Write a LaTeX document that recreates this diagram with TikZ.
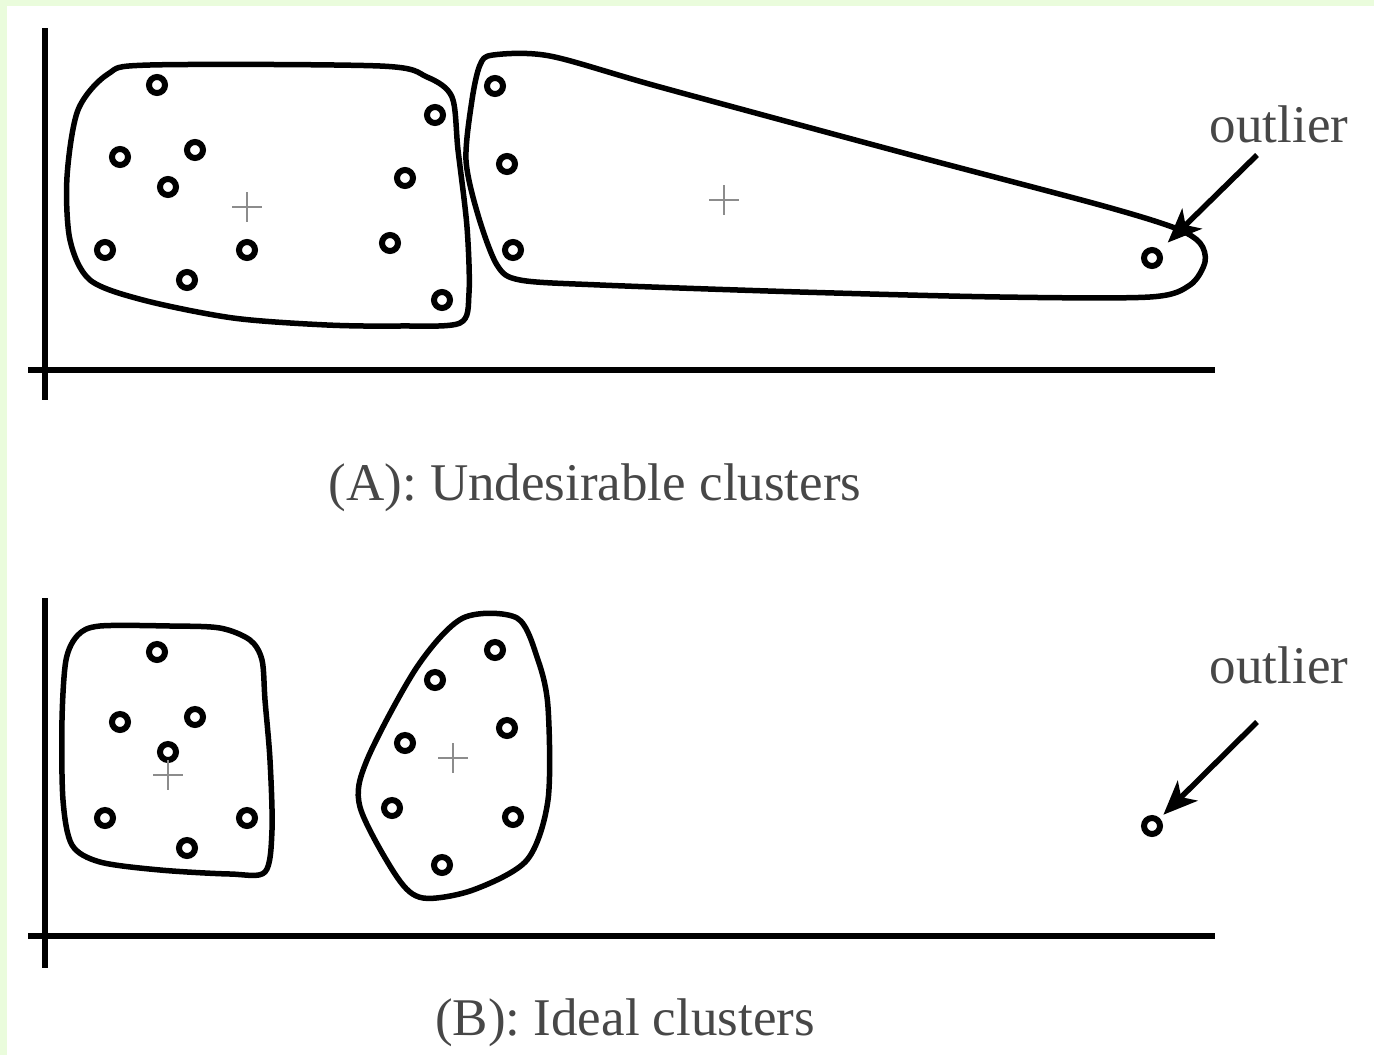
\documentclass[tikz,border=0pt]{standalone}
\usepackage{fontspec}
\setmainfont{Liberation Serif}
\usetikzlibrary{arrows.meta}
\definecolor{framegreen}{RGB}{234,252,220}

\begin{document}
\begin{tikzpicture}[x=1pt, y=-1pt,
    pnt/.style={circle, draw, line width=6pt, minimum size=16pt, inner sep=0pt},
    blob/.style={line width=5.5pt, line join=round},
    ax/.style={line width=6pt},
    lbl/.style={anchor=base, text=black!72, font=\fontsize{53}{60}\selectfont},
    arr/.style={line width=5.5pt, -{Stealth[length=34pt, width=28pt, inset=9pt]}},
    cen/.pic={\draw[black!45, line width=2.5pt] (-15,0) -- (15,0) (0,-15) -- (0,15);}]

    % frame
    \fill[framegreen] (0,0) rectangle (1374,1055);
    \fill[white] (7,6) rectangle (1374,1055);
    \useasboundingbox (0,0) rectangle (1374,1055);

    % (A) axes
    \draw[ax] (45,28) -- (45,400);
    \draw[ax] (28,370) -- (1215,370);

    % (A) clusters
    \draw[blob] plot[smooth cycle, tension=0.5] coordinates {(150,65) (380,66) (427,77) (452,97)
        (458,150) (467,227) (469,293) (460,323) (400,326) (327,325) (233,318) (143,300)
        (90,280) (70,240) (67,177) (78,110) (108,74)};
    \draw[blob] plot[smooth cycle, tension=0.5] coordinates {(493,55) (550,56) (660,87) (900,152)
        (1100,205) (1175,228) (1200,243) (1205,262) (1190,285) (1150,297) (1000,297) (800,292)
        (600,285) (520,280) (497,265) (478,215) (466,160) (472,100) (480,65)};

    \foreach \n/\x/\y in {a1/157/85, a2/120/157, a3/195/150, a4/168/187, a5/105/250, a6/187/280,
        a7/247/250, a8/435/115, a9/405/178, a10/390/243, a11/442/300,
        a12/495/86, a13/507/164, a14/513/250, aout/1152/258}
        \node[pnt] (\n) at (\x,\y) {};

    \pic (cenA1) at (247,207) {cen};
    \pic (cenA2) at (724,200) {cen};

    \node[lbl] (outlA) at (1279,142) {outlier};
    \coordinate (tailA) at (1257,155);
    \draw[arr, shorten >=11pt] (tailA) -- (aout);

    \node[lbl] (capA) at (595,500) {(A): Undesirable clusters};

    % (B) axes
    \draw[ax] (45,598) -- (45,968);
    \draw[ax] (28,936) -- (1215,936);

    % (B) clusters
    \draw[blob] plot[smooth cycle, tension=0.5] coordinates {(100,626) (170,626) (220,628) (250,640)
        (262,660) (265,700) (270,760) (272,830) (265,872) (230,874) (160,870) (100,862)
        (72,845) (63,800) (62,720) (66,660) (78,635)};
    \draw[blob] plot[smooth cycle, tension=0.5] coordinates {(463,618) (517,618) (538,660) (548,707)
        (548,800) (527,860) (473,890) (423,898) (397,877) (360,807) (367,760) (417,667)};

    \foreach \n/\x/\y in {b1/157/652, b2/120/722, b3/195/717, b4/168/752, b5/105/818, b6/187/848,
        b7/247/818, b8/495/650, b9/435/680, b10/507/728, b11/405/743, b12/392/808,
        b13/513/817, b14/442/865, bout/1152/826}
        \node[pnt] (\n) at (\x,\y) {};

    \pic (cenB1) at (168,775) {cen};
    \pic (cenB2) at (453,758) {cen};

    \node[lbl] (outlB) at (1279,683) {outlier};
    \coordinate (tailB) at (1257,722);
    \draw[arr, shorten >=5pt] (tailB) -- (bout);

    \node[lbl] (capB) at (625,1035) {(B): Ideal clusters};
\end{tikzpicture}
\end{document}
